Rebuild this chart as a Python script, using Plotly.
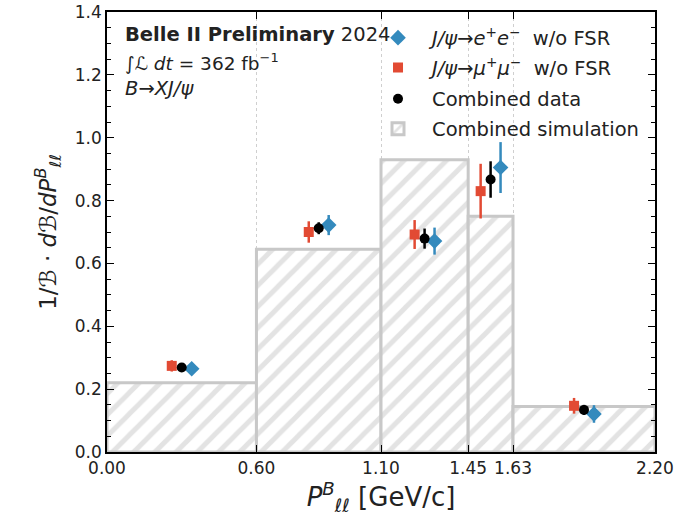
import plotly.graph_objects as go

# ---- data ----
edges = [0.0, 0.60, 1.10, 1.45, 1.63, 2.20]
tick_labels = ["0.00", "0.60", "1.10", "1.45", "1.63", "2.20"]
sim_vals = [0.22, 0.645, 0.93, 0.75, 0.145]
ee_vals = [0.265, 0.722, 0.671, 0.905, 0.121]
ee_errs = [0.010, 0.032, 0.043, 0.081, 0.028]
mm_vals = [0.274, 0.700, 0.692, 0.830, 0.147]
mm_errs = [0.018, 0.034, 0.046, 0.087, 0.025]
cb_vals = [0.269, 0.712, 0.679, 0.867, 0.134]
cb_errs = [0.008, 0.019, 0.032, 0.058, 0.016]

centers = [(a + b) / 2 for a, b in zip(edges[:-1], edges[1:])]
widths = [b - a for a, b in zip(edges[:-1], edges[1:])]
shift = 0.04

FONT = "DejaVu Sans"
BLUE = "#348ABD"
RED = "#E24A33"
LEG_FONT = 19.5

fig = go.Figure()
fig.add_trace(go.Bar(
    x=centers, y=sim_vals, width=widths, name="Combined simulation",
    legend="legend4",
    marker=dict(color="white", line=dict(color="#c8c8c8", width=3),
                pattern=dict(shape="/", fgcolor="#c8c8c8", bgcolor="white",
                             size=15, solidity=0.33)),
))
fig.add_trace(go.Scatter(
    x=[c + shift for c in centers], y=ee_vals, mode="markers",
    name="<i>J/ψ</i>→<i>e</i><sup>+</sup><i>e</i><sup>−</sup>  w/o FSR",
    legend="legend",
    marker=dict(symbol="diamond", color=BLUE, size=12),
    error_y=dict(type="data", array=ee_errs, color=BLUE, thickness=2.5, width=0),
))
fig.add_trace(go.Scatter(
    x=[c - shift for c in centers], y=mm_vals, mode="markers",
    name="<i>J/ψ</i>→<i>μ</i><sup>+</sup><i>μ</i><sup>−</sup>  w/o FSR",
    legend="legend2",
    marker=dict(symbol="square", color=RED, size=10),
    error_y=dict(type="data", array=mm_errs, color=RED, thickness=2.5, width=0),
))
fig.add_trace(go.Scatter(
    x=centers, y=cb_vals, mode="markers", name="Combined data",
    legend="legend3",
    marker=dict(symbol="circle", color="black", size=10),
    error_y=dict(type="data", array=cb_errs, color="black", thickness=2.5, width=0),
))

def leg(y):
    return dict(x=0.469, y=y, xanchor="left", yanchor="middle",
                bgcolor="rgba(0,0,0,0)", font=dict(size=LEG_FONT),
                itemwidth=58)

fig.update_layout(
    width=679, height=518,
    margin=dict(l=107, r=24, t=12, b=66),
    plot_bgcolor="white", paper_bgcolor="white",
    font=dict(family=FONT, size=17, color="#222222"),
    barmode="overlay",
    showlegend=True,
    legend=leg(0.941), legend2=leg(0.873), legend3=leg(0.802), legend4=leg(0.734),
    xaxis=dict(
        range=[0, 2.2], tickmode="array", tickvals=edges, ticktext=tick_labels,
        showline=True, linecolor="black", linewidth=1.5, mirror="ticks",
        ticks="inside", ticklen=7, tickwidth=1.2, tickcolor="black",
        showgrid=True, gridcolor="#cfcfcf", griddash="dot", gridwidth=1,
        zeroline=False, automargin=False,
        title=dict(text="<i>P</i><sup><i>B</i></sup><sub><i>ℓℓ</i></sub> [GeV/c]",
                   font=dict(size=26), standoff=4),
    ),
    yaxis=dict(
        range=[0, 1.4], dtick=0.2, tickformat=".1f",
        showline=True, linecolor="black", linewidth=1.5, mirror="ticks",
        ticks="inside", ticklen=7, tickwidth=1.2, tickcolor="black",
        minor=dict(ticks="inside", ticklen=4, dtick=0.05, tickcolor="black"),
        showgrid=False, zeroline=False, automargin=False,
        title=dict(text="1/<i>ℬ</i> · <i>d</i><i>ℬ</i>/<i>dP</i><sup><i>B</i></sup><sub><i>ℓℓ</i></sub>",
                   font=dict(size=23), standoff=12),
    ),
)

fig.add_annotation(xref="paper", yref="paper", x=0.029, y=0.948, xanchor="left",
                   yanchor="middle", showarrow=False,
                   text="<b>Belle II Preliminary</b> 2024", font=dict(size=19.5))
fig.add_annotation(xref="paper", yref="paper", x=0.029, y=0.886, xanchor="left",
                   yanchor="middle", showarrow=False,
                   text="∫<i>ℒ</i> <i>dt</i> = 362 fb<sup>−1</sup>", font=dict(size=18.5))
fig.add_annotation(xref="paper", yref="paper", x=0.029, y=0.827, xanchor="left",
                   yanchor="middle", showarrow=False,
                   text="<i>B</i>→<i>XJ/ψ</i>", font=dict(size=19.5))

fig.write_html("out.html")
